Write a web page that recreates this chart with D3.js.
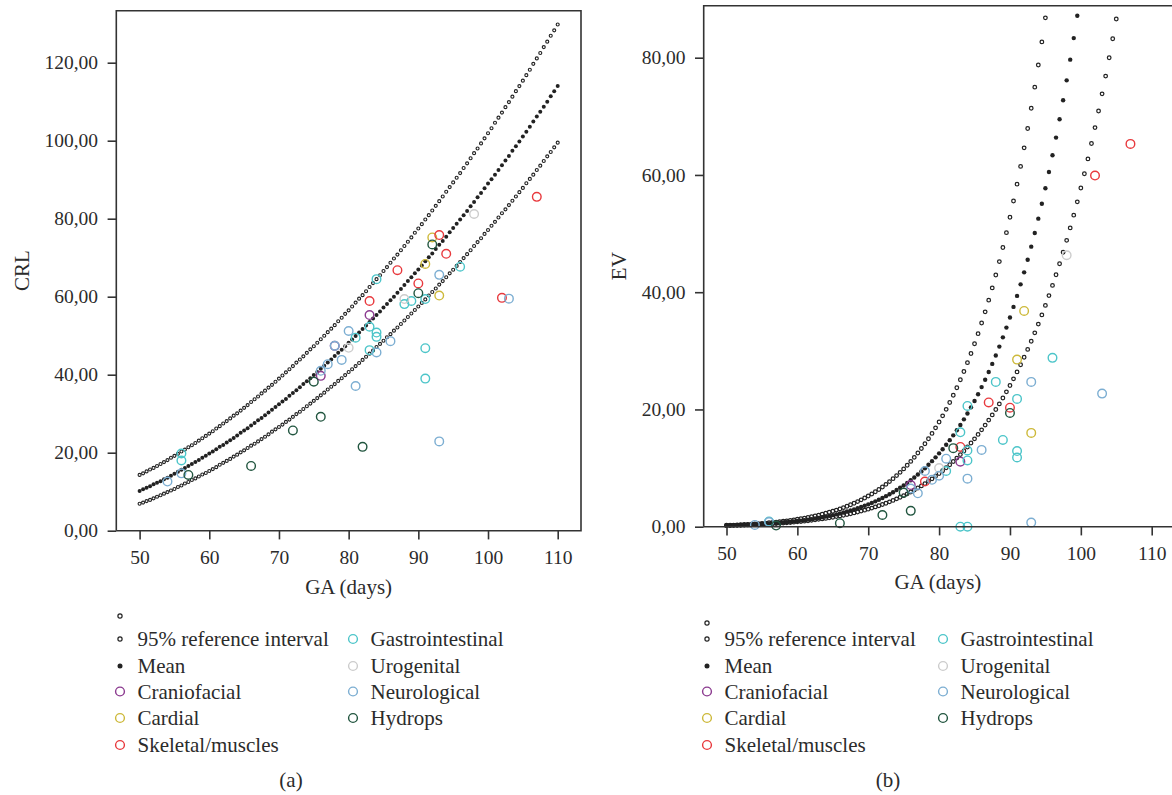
<!DOCTYPE html>
<html>
<head>
<meta charset="utf-8">
<script src="https://cdnjs.cloudflare.com/ajax/libs/d3/7.8.5/d3.min.js"></script>
<style>
	body { margin: 0; background: #fff; }
	svg { display: block; }
	text { font-family: "Liberation Serif", "DejaVu Serif", serif; fill: #2b2b2b; }
</style>
</head>
<body>
<svg id="chart" width="1172" height="795"></svg>
<script>
// ---- data ----
// reference curves are sampled every half day from 50 days on
var gaStart = 50, gaStep = 0.5;
var gaTicks = [ 50, 60, 70, 80, 90, 100, 110 ];
var crlTicks = [ 0, 20, 40, 60, 80, 100, 120 ];
var evTicks = [ 0, 20, 40, 60, 80 ];

var crlMean = [
	10.2, 10.6, 11.0, 11.4, 11.9, 12.3, 12.7, 13.2, 13.6, 14.1,
	14.6, 15.1, 15.6, 16.1, 16.6, 17.1, 17.6, 18.1, 18.7, 19.2,
	19.8, 20.3, 20.9, 21.5, 22.0, 22.6, 23.2, 23.8, 24.4, 25.1,
	25.7, 26.3, 27.0, 27.6, 28.3, 28.9, 29.6, 30.3, 31.0, 31.7,
	32.4, 33.1, 33.8, 34.6, 35.3, 36.0, 36.8, 37.6, 38.3, 39.1,
	39.9, 40.7, 41.5, 42.3, 43.1, 43.9, 44.8, 45.6, 46.4, 47.3,
	48.2, 49.0, 49.9, 50.8, 51.7, 52.6, 53.5, 54.4, 55.3, 56.2,
	57.2, 58.1, 59.1, 60.0, 61.0, 62.0, 63.0, 64.0, 65.0, 66.0,
	67.0, 68.0, 69.1, 70.1, 71.1, 72.2, 73.3, 74.3, 75.4, 76.5,
	77.6, 78.7, 79.8, 80.9, 82.0, 83.2, 84.3, 85.5, 86.6, 87.8,
	89.0, 90.1, 91.3, 92.5, 93.7, 94.9, 96.1, 97.4, 98.6, 99.8,
	101.1, 102.3, 103.6, 104.9, 106.2, 107.4, 108.7, 110.0, 111.4, 112.7,
	114.0
];
var crlUpper = [
	14.3, 14.7, 15.2, 15.7, 16.1, 16.6, 17.1, 17.6, 18.1, 18.7,
	19.2, 19.7, 20.3, 20.8, 21.4, 21.9, 22.5, 23.1, 23.7, 24.3,
	24.9, 25.5, 26.2, 26.8, 27.5, 28.1, 28.8, 29.5, 30.1, 30.8,
	31.5, 32.2, 33.0, 33.7, 34.4, 35.2, 35.9, 36.7, 37.4, 38.2,
	39.0, 39.8, 40.6, 41.4, 42.2, 43.1, 43.9, 44.7, 45.6, 46.5,
	47.3, 48.2, 49.1, 50.0, 50.9, 51.8, 52.7, 53.7, 54.6, 55.6,
	56.5, 57.5, 58.5, 59.5, 60.4, 61.4, 62.5, 63.5, 64.5, 65.5,
	66.6, 67.6, 68.7, 69.8, 70.8, 71.9, 73.0, 74.1, 75.2, 76.4,
	77.5, 78.6, 79.8, 80.9, 82.1, 83.3, 84.5, 85.7, 86.9, 88.1,
	89.3, 90.5, 91.7, 93.0, 94.2, 95.5, 96.8, 98.0, 99.3, 100.6,
	101.9, 103.2, 104.6, 105.9, 107.2, 108.6, 109.9, 111.3, 112.7, 114.0,
	115.4, 116.8, 118.2, 119.7, 121.1, 122.5, 124.0, 125.4, 126.9, 128.3,
	129.8
];
var crlLower = [
	6.9, 7.2, 7.6, 7.9, 8.3, 8.7, 9.1, 9.5, 9.9, 10.3,
	10.7, 11.2, 11.6, 12.1, 12.5, 13.0, 13.4, 13.9, 14.4, 14.8,
	15.3, 15.8, 16.3, 16.9, 17.4, 17.9, 18.4, 19.0, 19.5, 20.1,
	20.6, 21.2, 21.8, 22.3, 22.9, 23.5, 24.1, 24.7, 25.4, 26.0,
	26.6, 27.2, 27.9, 28.5, 29.2, 29.9, 30.5, 31.2, 31.9, 32.6,
	33.3, 34.0, 34.7, 35.4, 36.2, 36.9, 37.6, 38.4, 39.1, 39.9,
	40.7, 41.4, 42.2, 43.0, 43.8, 44.6, 45.4, 46.2, 47.1, 47.9,
	48.7, 49.6, 50.4, 51.3, 52.1, 53.0, 53.9, 54.8, 55.7, 56.6,
	57.5, 58.4, 59.3, 60.3, 61.2, 62.1, 63.1, 64.0, 65.0, 66.0,
	66.9, 67.9, 68.9, 69.9, 70.9, 71.9, 73.0, 74.0, 75.0, 76.1,
	77.1, 78.2, 79.2, 80.3, 81.4, 82.4, 83.5, 84.6, 85.7, 86.8,
	87.9, 89.1, 90.2, 91.3, 92.5, 93.6, 94.8, 96.0, 97.1, 98.3,
	99.5
];

// EV curves stop where they leave the top of the panel
var evMean = [
	0.19, 0.21, 0.23, 0.25, 0.27, 0.29, 0.32, 0.35, 0.38, 0.41,
	0.45, 0.48, 0.52, 0.57, 0.61, 0.66, 0.71, 0.77, 0.83, 0.90,
	0.97, 1.04, 1.12, 1.20, 1.29, 1.39, 1.49, 1.60, 1.72, 1.84,
	1.97, 2.11, 2.26, 2.41, 2.58, 2.76, 2.94, 3.14, 3.35, 3.58,
	3.81, 4.06, 4.32, 4.60, 4.90, 5.21, 5.54, 5.88, 6.25, 6.64,
	7.04, 7.47, 7.92, 8.40, 8.90, 9.43, 9.98, 10.57, 11.18, 11.83,
	12.51, 13.22, 13.97, 14.76, 15.58, 16.45, 17.36, 18.31, 19.31, 20.36,
	21.45, 22.60, 23.81, 25.07, 26.39, 27.77, 29.21, 30.72, 32.30, 33.96,
	35.68, 37.49, 39.37, 41.34, 43.39, 45.54, 47.77, 50.11, 52.55, 55.09,
	57.73, 60.50, 63.37, 66.37, 69.50, 72.75, 76.14, 79.67, 83.34, 87.16
];
var evUpper = [
	0.24, 0.26, 0.28, 0.31, 0.34, 0.37, 0.40, 0.44, 0.48, 0.52,
	0.57, 0.62, 0.67, 0.73, 0.79, 0.86, 0.93, 1.00, 1.08, 1.17,
	1.27, 1.37, 1.47, 1.59, 1.71, 1.84, 1.98, 2.13, 2.29, 2.46,
	2.64, 2.84, 3.04, 3.26, 3.49, 3.74, 4.00, 4.28, 4.58, 4.89,
	5.23, 5.58, 5.96, 6.35, 6.78, 7.22, 7.69, 8.19, 8.72, 9.27,
	9.86, 10.49, 11.14, 11.83, 12.57, 13.34, 14.15, 15.01, 15.91, 16.86,
	17.86, 18.91, 20.02, 21.19, 22.42, 23.71, 25.06, 26.48, 27.98, 29.55,
	31.20, 32.93, 34.74, 36.65, 38.64, 40.73, 42.93, 45.22, 47.63, 50.15,
	52.79, 55.55, 58.43, 61.46, 64.62, 67.92, 71.37, 74.98, 78.75, 82.69,
	86.80
];
var evLower = [
	0.18, 0.20, 0.22, 0.23, 0.25, 0.27, 0.30, 0.32, 0.35, 0.37,
	0.40, 0.44, 0.47, 0.51, 0.54, 0.58, 0.63, 0.67, 0.72, 0.78,
	0.83, 0.89, 0.95, 1.02, 1.09, 1.17, 1.25, 1.33, 1.42, 1.52,
	1.62, 1.72, 1.84, 1.95, 2.08, 2.21, 2.35, 2.50, 2.66, 2.82,
	2.99, 3.17, 3.37, 3.57, 3.78, 4.00, 4.24, 4.49, 4.75, 5.02,
	5.30, 5.61, 5.92, 6.25, 6.60, 6.96, 7.35, 7.75, 8.17, 8.60,
	9.06, 9.54, 10.05, 10.57, 11.13, 11.70, 12.30, 12.93, 13.59, 14.27,
	14.99, 15.74, 16.52, 17.33, 18.18, 19.07, 19.99, 20.95, 21.96, 23.00,
	24.09, 25.22, 26.40, 27.63, 28.91, 30.24, 31.63, 33.07, 34.56, 36.12,
	37.74, 39.42, 41.16, 42.98, 44.86, 46.82, 48.85, 50.96, 53.14, 55.41,
	57.77, 60.21, 62.74, 65.36, 68.08, 70.90, 73.83, 76.86, 79.99, 83.24,
	86.60
];

var categories = [ 'Craniofacial', 'Cardial', 'Skeletal/muscles', 'Gastrointestinal', 'Urogenital', 'Neurological', 'Hydrops' ];

// cases as [GA days, value]
var crlCranio = [ [ 83, 55.3 ], [ 76, 39.7 ], [ 78, 47.4 ] ];
var crlCardial = [ [ 92, 75.2 ], [ 91, 68.4 ], [ 93, 60.3 ] ];
var crlSkeletal = [ [ 107, 85.6 ], [ 93, 75.8 ], [ 94, 71.0 ], [ 87, 66.8 ], [ 90, 63.4 ], [ 102, 59.7 ], [ 83, 58.9 ] ];
var crlGastro = [ [ 84, 64.5 ], [ 96, 67.7 ], [ 88, 58.1 ], [ 89, 58.9 ], [ 91, 59.4 ], [ 83, 52.3 ], [ 81, 49.5 ], [ 84, 50.8 ],
	[ 84, 49.7 ], [ 83, 46.3 ], [ 91, 46.8 ], [ 91, 39.0 ], [ 56, 19.8 ], [ 56, 18.0 ] ];
var crlUro = [ [ 98, 81.2 ], [ 88, 59.4 ], [ 80, 46.9 ] ];
var crlNeuro = [ [ 93, 65.6 ], [ 103, 59.5 ], [ 80, 51.2 ], [ 86, 48.6 ], [ 78, 47.4 ], [ 84, 45.7 ], [ 79, 43.8 ], [ 77, 42.7 ],
	[ 76, 41.0 ], [ 81, 37.1 ], [ 93, 22.9 ], [ 56, 14.7 ], [ 54, 12.6 ] ];
var crlHydrops = [ [ 92, 73.4 ], [ 90, 60.9 ], [ 75, 38.2 ], [ 76, 29.2 ], [ 72, 25.7 ], [ 82, 21.5 ], [ 66, 16.6 ], [ 57, 14.3 ] ];

var evCranio = [ [ 83, 11.1 ], [ 76, 7.1 ] ];
var evCardial = [ [ 92, 36.8 ], [ 91, 28.5 ], [ 93, 16.0 ] ];
var evSkeletal = [ [ 107, 65.3 ], [ 102, 59.9 ], [ 87, 21.2 ], [ 90, 20.3 ], [ 83, 13.6 ], [ 78, 7.7 ] ];
var evGastro = [ [ 96, 28.8 ], [ 88, 24.7 ], [ 91, 21.8 ], [ 84, 20.6 ], [ 83, 16.1 ], [ 89, 14.8 ], [ 84, 13.0 ], [ 91, 12.9 ],
	[ 91, 11.8 ], [ 84, 11.3 ], [ 81, 9.5 ], [ 83, 0.0 ], [ 84, 0.0 ], [ 56, 0.9 ] ];
var evUro = [ [ 98, 46.3 ], [ 80, 10.0 ] ];
var evNeuro = [ [ 93, 24.7 ], [ 103, 22.7 ], [ 86, 13.1 ], [ 81, 11.6 ], [ 78, 9.5 ], [ 80, 8.7 ], [ 84, 8.2 ], [ 79, 8.0 ],
	[ 76, 6.5 ], [ 77, 5.7 ], [ 93, 0.7 ], [ 54, 0.3 ], [ 56, 0.8 ] ];
var evHydrops = [ [ 90, 19.4 ], [ 82, 13.4 ], [ 75, 5.8 ], [ 76, 2.7 ], [ 72, 2.0 ], [ 66, 0.6 ], [ 57, 0.2 ] ];

// ---- styles ----
var colors = {
	'Craniofacial': '#8b3a8f',
	'Cardial': '#cdb93a',
	'Skeletal/muscles': '#e8393d',
	'Gastrointestinal': '#4cc5c9',
	'Urogenital': '#cccccc',
	'Neurological': '#7caed2',
	'Hydrops': '#21553f'
};
var ink = '#222';

var svg = d3.select( '#chart' );

var comma = function( v ) { return d3.format( '.2f' )( v ).replace( '.', ',' ); };

function drawPanel( p ) {
	var x = d3.scaleLinear().domain( [ 50, 110 ] ).range( p.xRange ),
		y = d3.scaleLinear().domain( p.yDomain ).range( p.yRange ),
		g = svg.append( 'g' );

	// reference curves
	[ p.upper, p.lower ].forEach( function( series ) {
		g.append( 'g' ).selectAll( 'circle' ).data( series )
			.enter().append( 'circle' )
			.attr( 'cx', function( d, i ) { return x( gaStart + i * gaStep ); } )
			.attr( 'cy', function( d ) { return y( d ); } )
			.attr( 'r', p.curveR )
			.style( 'fill', 'none' )
			.style( 'stroke', ink )
			.style( 'stroke-width', p.curveW );
	} );
	g.append( 'g' ).selectAll( 'circle' ).data( p.mean )
		.enter().append( 'circle' )
		.attr( 'cx', function( d, i ) { return x( gaStart + i * gaStep ); } )
		.attr( 'cy', function( d ) { return y( d ); } )
		.attr( 'r', p.meanR )
		.style( 'fill', ink );

	// cases
	categories.forEach( function( c, k ) {
		g.append( 'g' ).selectAll( 'circle' ).data( p.points[ k ] )
			.enter().append( 'circle' )
			.attr( 'cx', function( d ) { return x( d[ 0 ] ); } )
			.attr( 'cy', function( d ) { return y( d[ 1 ] ); } )
			.attr( 'r', 4.3 )
			.style( 'fill', 'none' )
			.style( 'stroke', colors[ c ] )
			.style( 'stroke-width', 1.4 );
	} );

	// frame
	var bottom = p.yRange[ 0 ];
	var frame = 'M' + p.left + ',' + bottom + 'V' + p.top + 'H' + p.right;
	frame += p.closeRight ? 'V' + bottom : 'M' + p.right + ',' + bottom;
	frame += 'H' + p.left;
	g.append( 'path' ).attr( 'd', frame )
		.style( 'fill', 'none' ).style( 'stroke', '#333' ).style( 'stroke-width', 1.6 );

	// axes
	var gy = g.append( 'g' ).attr( 'transform', 'translate(' + p.left + ',0)' )
		.call( d3.axisLeft( y ).tickValues( p.yTicks ).tickSize( 8.7 ).tickPadding( 9.5 ).tickFormat( comma ) );
	var gx = g.append( 'g' ).attr( 'transform', 'translate(0,' + bottom + ')' )
		.call( d3.axisBottom( x ).tickValues( gaTicks ).tickSize( 8.7 ).tickPadding( 10.5 ) );
	[ gx, gy ].forEach( function( a ) {
		a.select( '.domain' ).remove();
		a.selectAll( 'line' ).style( 'stroke', '#333' ).style( 'stroke-width', 1.6 );
		a.attr( 'font-family', null ).attr( 'font-size', null );
		a.selectAll( 'text' ).style( 'font-size', '19.5px' ).style( 'fill', '#2b2b2b' );
	} );

	g.append( 'text' )
		.attr( 'transform', 'translate(' + p.yTitleX + ',' + ( ( p.top + bottom ) / 2 ) + ') rotate(-90)' )
		.attr( 'text-anchor', 'middle' ).attr( 'dy', '0.35em' )
		.style( 'font-size', '21px' ).text( p.yTitle );
	g.append( 'text' )
		.attr( 'x', ( p.left + Math.min( p.right, 1172 ) ) / 2 ).attr( 'y', p.xTitleY )
		.attr( 'text-anchor', 'middle' )
		.style( 'font-size', '21px' ).text( 'GA (days)' );

	// legend
	var lg = g.append( 'g' ).style( 'font-size', '21px' ),
		col1 = p.legendX, col2 = p.legendX2, rows = [ 639, 666, 691.5, 718, 745 ];

	lg.append( 'circle' ).attr( 'cx', col1 ).attr( 'cy', p.legendExtraY ).attr( 'r', 2.1 )
		.style( 'fill', 'none' ).style( 'stroke', ink ).style( 'stroke-width', 1.2 );
	lg.append( 'circle' ).attr( 'cx', col1 ).attr( 'cy', rows[ 0 ] ).attr( 'r', 2.1 )
		.style( 'fill', 'none' ).style( 'stroke', ink ).style( 'stroke-width', 1.2 );
	lg.append( 'circle' ).attr( 'cx', col1 ).attr( 'cy', rows[ 1 ] ).attr( 'r', 2.5 ).style( 'fill', ink );

	var items = [ [ '95% reference interval', col1, rows[ 0 ] ], [ 'Mean', col1, rows[ 1 ] ] ];
	categories.forEach( function( c, k ) {
		var cx = k < 3 ? col1 : col2, cy = k < 3 ? rows[ k + 2 ] : rows[ k - 3 ];
		lg.append( 'circle' ).attr( 'cx', cx ).attr( 'cy', cy ).attr( 'r', 4.4 )
			.style( 'fill', 'none' ).style( 'stroke', colors[ c ] ).style( 'stroke-width', 1.4 );
		items.push( [ c, cx, cy ] );
	} );
	lg.selectAll( 'text.item' ).data( items )
		.enter().append( 'text' ).attr( 'class', 'item' )
		.attr( 'x', function( d ) { return d[ 1 ] + 17.5; } )
		.attr( 'y', function( d ) { return d[ 2 ] + 7; } )
		.text( function( d ) { return d[ 0 ]; } );

	g.append( 'text' ).attr( 'x', p.labelX ).attr( 'y', 787 ).attr( 'text-anchor', 'middle' )
		.style( 'font-size', '21px' ).text( p.label );
}

drawPanel( {
	xRange: [ 139.6, 557.7 ], yDomain: [ 0, 120 ], yRange: [ 530.7, 62.7 ], yTicks: crlTicks,
	left: 116.3, top: 10.7, right: 581, closeRight: true,
	mean: crlMean, upper: crlUpper, lower: crlLower, curveR: 1.5, curveW: 1.15, meanR: 2.0,
	points: [ crlCranio, crlCardial, crlSkeletal, crlGastro, crlUro, crlNeuro, crlHydrops ],
	yTitle: 'CRL', yTitleX: 22, xTitleY: 594,
	legendX: 120, legendX2: 353, legendExtraY: 616, label: '(a)', labelX: 291
} );

drawPanel( {
	xRange: [ 726.5, 1151.7 ], yDomain: [ 0, 80 ], yRange: [ 526.7, 57.7 ], yTicks: evTicks,
	left: 703.7, top: 5.7, right: 1180, closeRight: false,
	mean: evMean, upper: evUpper, lower: evLower, curveR: 1.8, curveW: 1.25, meanR: 2.2,
	points: [ evCranio, evCardial, evSkeletal, evGastro, evUro, evNeuro, evHydrops ],
	yTitle: 'EV', yTitleX: 619, xTitleY: 589,
	legendX: 707, legendX2: 943, legendExtraY: 623, label: '(b)', labelX: 888
} );
</script>
</body>
</html>
